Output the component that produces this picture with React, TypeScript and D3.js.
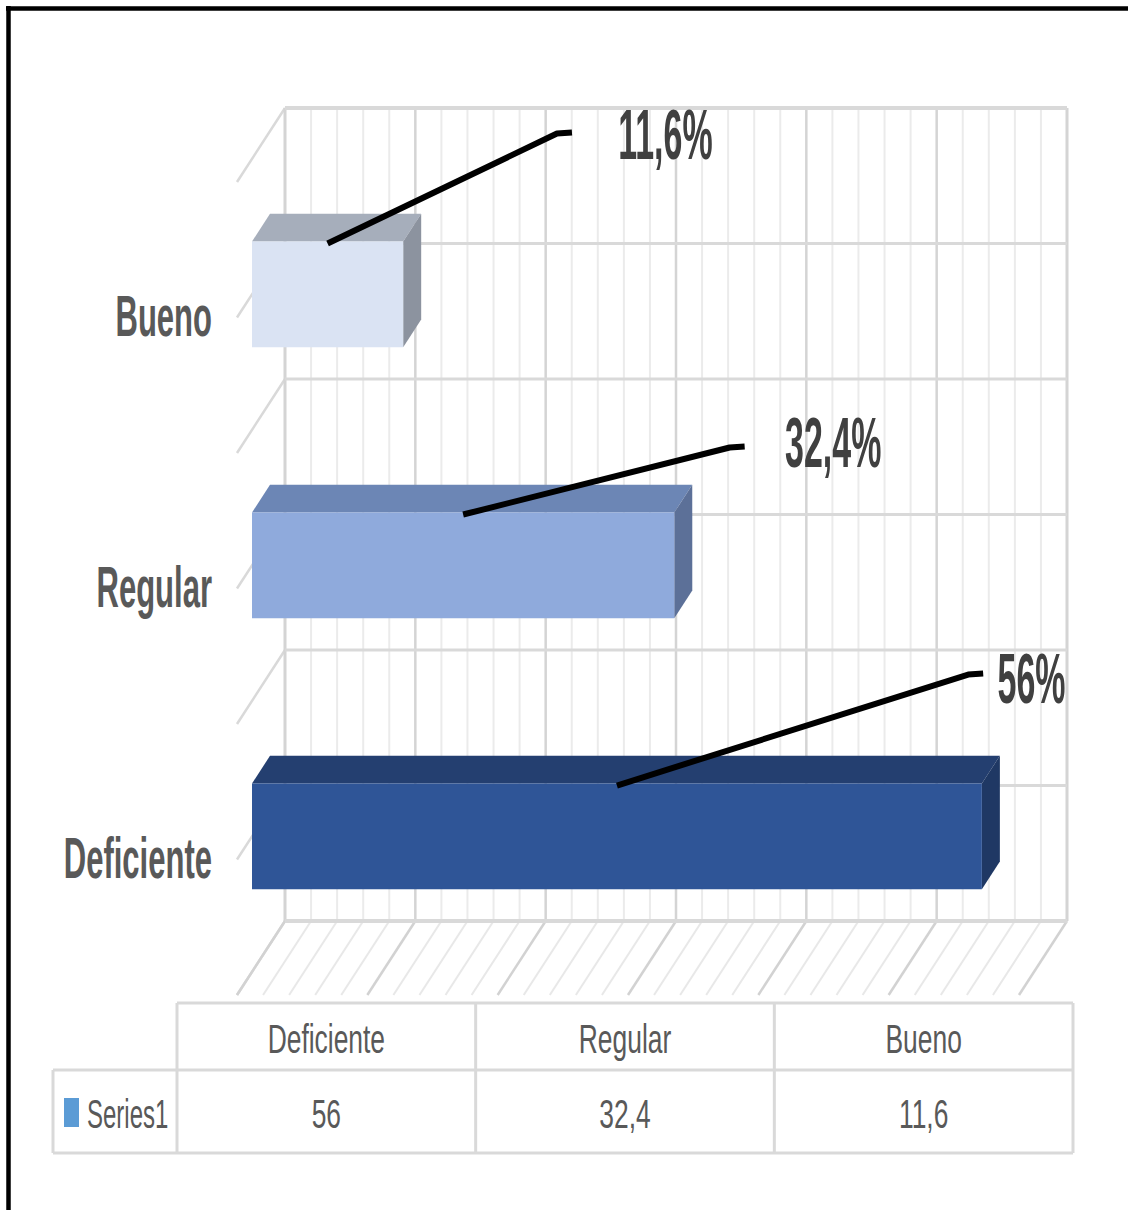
import React from "react";
import * as d3 from "d3";

// ---- data ----
const categories = ["Deficiente", "Regular", "Bueno"];
const values = [56, 32.4, 11.6];
const dataLabels = ["56%", "32,4%", "11,6%"];
const tableValues = ["56", "32,4", "11,6"];
const seriesName = "Series1";
const axisMax = 60;
const majorStep = 10;
const minorStep = 2;

// ---- layout / style ----
const W = 1128;
const H = 1210;
const wall = { left: 285, right: 1067, top: 108, bottom: 921 };
const depth = { dx: -48, dy: 74 };
const barFront = 0.6875;
const barBack = 0.3125;
const barColors = [
  { front: "#2F5597", top: "#243F70", side: "#1F3864" },
  { front: "#8FAADC", top: "#6C86B5", side: "#5C7098" },
  { front: "#DAE3F3", top: "#A6AEBB", side: "#8C939F" },
];
// label placement (value units along the front plane, px offsets from bar top)
const leaderEndVal = [56.1, 37.8, 24.55];
const leaderEndDy = [-110, -66, -109];
const labelVal = [57.2, 40.9, 28.1];
const labelDy = [-81, -46, -83];

export default function App() {
  const x = d3.scaleLinear().domain([0, axisMax]).range([wall.left, wall.right]);
  const order = [...categories].reverse(); // top to bottom
  const band = d3.scaleBand().domain(order).range([wall.top, wall.bottom]).padding(0);
  const barBand = d3
    .scaleBand()
    .domain(order)
    .range([wall.top, wall.bottom])
    .paddingInner(0.61)
    .paddingOuter(0.305);

  const P = (v: number, y: number, f: number): [number, number] => [
    x(v) + depth.dx * f,
    y + depth.dy * f,
  ];
  const pts = (arr: [number, number][]) => arr.map((p) => p.join(",")).join(" ");

  const ticks = d3.range(0, axisMax + 0.001, minorStep);
  const isMajor = (t: number) => Math.abs(t % majorStep) < 1e-6;

  const hLines: number[] = [];
  order.forEach((c) => {
    hLines.push(band(c)!);
    hLines.push(band(c)! + band.bandwidth() / 2);
  });
  hLines.push(wall.bottom);

  const catFont = "'Liberation Sans', Arial, sans-serif";

  // table
  const tableX = d3.scaleBand().domain(categories).range([177, 1073]);
  const tTop = 1003;
  const tMid = 1070;
  const tBot = 1153;
  const tLeft = 53;
  const tableColor = "#D9D9D9";

  return (
    <svg
      width={W}
      height={H}
      style={{ position: "absolute", left: 0, top: 0, background: "#fff" }}
    >
      <rect x={0} y={0} width={W} height={H} fill="#fff" />
      {/* side wall diagonals */}
      {hLines.map((y, i) => {
        const a = P(0, y, 0);
        const b = P(0, y, 1);
        return (
          <line key={"sd" + i} x1={a[0]} y1={a[1]} x2={b[0]} y2={b[1]} stroke="#D9D9D9" strokeWidth={2.5} />
        );
      })}
      {/* floor diagonals */}
      {ticks.map((t) => {
        const a = P(t, wall.bottom, 0);
        const b = P(t, wall.bottom, 1);
        return (
          <line
            key={"fd" + t}
            x1={a[0]}
            y1={a[1]}
            x2={b[0]}
            y2={b[1]}
            stroke={isMajor(t) ? "#D2D2D2" : "#E8E8E8"}
            strokeWidth={isMajor(t) ? 2.5 : 2}
          />
        );
      })}
      {/* back wall verticals */}
      {ticks.map((t) => (
        <line
          key={"v" + t}
          x1={x(t)}
          x2={x(t)}
          y1={wall.top}
          y2={wall.bottom}
          stroke={isMajor(t) ? "#D4D4D4" : "#EBEBEB"}
          strokeWidth={t === 0 || t === axisMax ? 3 : isMajor(t) ? 2.5 : 2}
        />
      ))}
      {/* back wall horizontals */}
      {hLines.map((y, i) => (
        <line
          key={"h" + i}
          x1={wall.left}
          x2={wall.right}
          y1={y}
          y2={y}
          stroke="#D9D9D9"
          strokeWidth={i === 0 || i === hLines.length - 1 ? 4 : 3}
        />
      ))}

      {/* bars */}
      {categories.map((c, i) => {
        const v = values[i];
        const y0 = barBand(c)!;
        const y1 = y0 + barBand.bandwidth();
        const col = barColors[i];
        return (
          <g key={"bar" + c}>
            <polygon
              points={pts([P(0, y0, barBack), P(v, y0, barBack), P(v, y0, barFront), P(0, y0, barFront)])}
              fill={col.top}
            />
            <polygon
              points={pts([P(v, y0, barBack), P(v, y1, barBack), P(v, y1, barFront), P(v, y0, barFront)])}
              fill={col.side}
            />
            <polygon
              points={pts([P(0, y0, barFront), P(v, y0, barFront), P(v, y1, barFront), P(0, y1, barFront)])}
              fill={col.front}
            />
          </g>
        );
      })}

      {/* leader lines and labels */}
      {categories.map((c, i) => {
        const v = values[i];
        const top = P(0, barBand(c)!, barFront)[1];
        const s = P(v / 2, barBand(c)!, barFront);
        const ex = P(leaderEndVal[i], 0, barFront)[0];
        const ey = top + leaderEndDy[i];
        const lx = P(labelVal[i], 0, barFront)[0];
        const ly = top + labelDy[i];
        return (
          <g key={"lab" + c}>
            <polyline
              points={pts([[s[0], s[1] + 2], [ex - 15, ey + 1], [ex, ey]])}
              fill="none"
              stroke="#000"
              strokeWidth={6}
              strokeLinejoin="round"
            />
            <g transform={`translate(${lx},${ly}) scale(0.485,1)`}>
              <text x={0} y={0} fontFamily={catFont} fontWeight="bold" fontSize={70} fill="#404040">
                {dataLabels[i]}
              </text>
            </g>
          </g>
        );
      })}

      {/* category labels */}
      {categories.map((c) => {
        const yc = P(0, band(c)! + band.bandwidth() / 2, 1)[1];
        const xr = P(0, 0, 1)[0] - 25;
        return (
          <g key={"cat" + c} transform={`translate(${xr},${yc + 18}) scale(0.535,1)`}>
            <text x={0} y={0} textAnchor="end" fontFamily={catFont} fontWeight="bold" fontSize={58} fill="#595959">
              {c}
            </text>
          </g>
        );
      })}

      {/* data table */}
      <g stroke={tableColor} strokeWidth={3} fill="none">
        <line x1={tableX(categories[0])!} x2={1073} y1={tTop} y2={tTop} />
        <line x1={tLeft} x2={1073} y1={tMid} y2={tMid} />
        <line x1={tLeft} x2={1073} y1={tBot} y2={tBot} />
        <line x1={tLeft} x2={tLeft} y1={tMid} y2={tBot} />
        {categories.map((c) => (
          <line key={"tv" + c} x1={tableX(c)!} x2={tableX(c)!} y1={tTop} y2={tBot} />
        ))}
        <line x1={1073} x2={1073} y1={tTop} y2={tBot} />
      </g>
      {categories.map((c, i) => {
        const cx = tableX(c)! + tableX.bandwidth() / 2;
        return (
          <g key={"tt" + c}>
            <g transform={`translate(${cx},1053) scale(0.66,1)`}>
              <text textAnchor="middle" fontFamily={catFont} fontSize={40} fill="#595959">
                {c}
              </text>
            </g>
            <g transform={`translate(${cx},1128) scale(0.66,1)`}>
              <text textAnchor="middle" fontFamily={catFont} fontSize={40} fill="#595959">
                {tableValues[i]}
              </text>
            </g>
          </g>
        );
      })}
      <rect x={64} y={1098} width={15} height={29} fill="#5B9BD5" />
      <g transform={`translate(87,1128) scale(0.6,1)`}>
        <text fontFamily={catFont} fontSize={40} fill="#595959">
          {seriesName}
        </text>
      </g>

      {/* frame */}
      <line x1={6} x2={W} y1={8.5} y2={8.5} stroke="#000" strokeWidth={4.5} />
      <line x1={8.5} x2={8.5} y1={6} y2={H} stroke="#000" strokeWidth={4.5} />
    </svg>
  );
}
